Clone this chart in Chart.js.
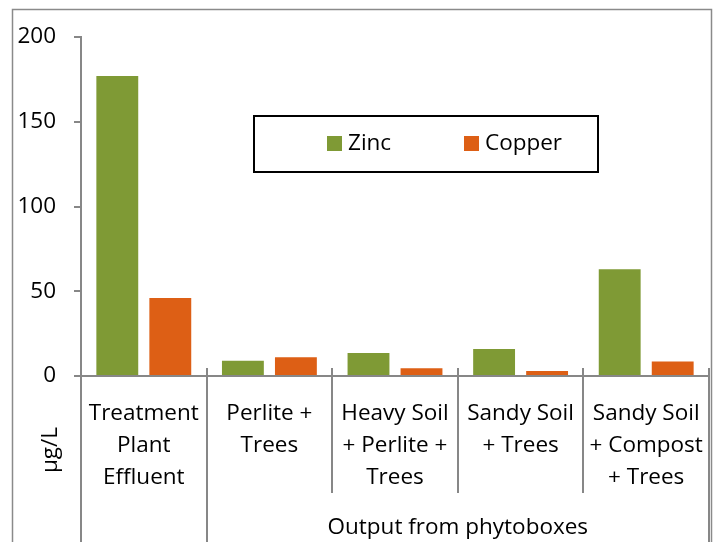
<!DOCTYPE html>
<html>
<head>
<meta charset="utf-8">
<script src="https://cdn.jsdelivr.net/npm/chart.js@4"></script>
<style>
  html, body { margin: 0; padding: 0; background: #fff; }
  #wrap { width: 717px; height: 542px; }
</style>
</head>
<body>
<div id="wrap"><canvas id="chart" width="717" height="542"></canvas></div>
<script>
const categories = [
  ["Treatment", "Plant", "Effluent"],
  ["Perlite +", "Trees"],
  ["Heavy Soil", "+ Perlite +", "Trees"],
  ["Sandy Soil", "+ Trees"],
  ["Sandy Soil", "+ Compost", "+ Trees"]
];
const zinc = [177, 9, 13.5, 16, 63];
const copper = [46, 11, 4.5, 3, 8.5];
const yMin = 0, yMax = 200, yStep = 50;
const groupLabel = "Output from phytoboxes";
const yTitle = "µg/L";

const FONT = "'Open Sans'";
const FSIZE = 22.5;
const zincColor = "#7f9a35";
const copperColor = "#dd5f15";
const axisColor = "#878787";

// extra drawing: frame, category dividers, group label, axis title, legend
const decor = {
  id: "decor",
  afterDraw(chart) {
    const ctx = chart.ctx;
    const x = chart.scales.x;
    const y = chart.scales.y;
    const base = y.getPixelForValue(0);
    const n = categories.length;
    ctx.save();

    // outer frame
    ctx.strokeStyle = "#8a8a8a";
    ctx.lineWidth = 1.5;
    ctx.strokeRect(12.5, 9.5, 699, 600);

    // category dividers
    ctx.strokeStyle = axisColor;
    ctx.lineWidth = 2;
    for (let i = 0; i <= n; i++) {
      const px = Math.round(x.getPixelForValue(i - 0.5));
      const full = (i === 0 || i === 1 || i === n);
      ctx.beginPath();
      ctx.moveTo(px, i === 0 ? base : base - 8);
      ctx.lineTo(px, full ? 560 : 493);
      ctx.stroke();
    }

    // group label
    ctx.fillStyle = "#000";
    ctx.font = FSIZE + "px " + FONT;
    ctx.textAlign = "center";
    ctx.textBaseline = "middle";
    const gx = (x.getPixelForValue(0.5) + x.getPixelForValue(n - 0.5)) / 2;
    ctx.fillText(groupLabel, gx, 528);

    // rotated y title
    ctx.save();
    ctx.translate(51, 450);
    ctx.rotate(-Math.PI / 2);
    ctx.fillText(yTitle, 0, 0);
    ctx.restore();

    // legend box
    ctx.strokeStyle = "#000";
    ctx.lineWidth = 2;
    ctx.strokeRect(254, 116, 344, 56);
    const items = chart.data.datasets;
    const lx = [327, 464];
    ctx.textAlign = "left";
    items.forEach((ds, i) => {
      ctx.fillStyle = ds.backgroundColor;
      ctx.fillRect(lx[i], 136, 15, 15);
      ctx.fillStyle = "#000";
      ctx.fillText(ds.label, lx[i] + 21, 144);
    });

    ctx.restore();
  }
};

new Chart(document.getElementById("chart"), {
  type: "bar",
  data: {
    labels: categories,
    datasets: [
      { label: "Zinc", data: zinc, backgroundColor: zincColor,
        categoryPercentage: 0.844, barPercentage: 0.79 },
      { label: "Copper", data: copper, backgroundColor: copperColor,
        categoryPercentage: 0.844, barPercentage: 0.79 }
    ]
  },
  options: {
    responsive: false,
    animation: false,
    layout: { padding: { top: 37, right: 8, left: 0, bottom: 0 } },
    plugins: {
      legend: { display: false },
      tooltip: { enabled: false }
    },
    scales: {
      x: {
        grid: { display: false },
        border: { display: true, color: axisColor, width: 2 },
        ticks: {
          color: "#000",
          font: { family: FONT, size: FSIZE, lineHeight: 1.44 },
          padding: 13,
          maxRotation: 0,
          autoSkip: false
        },
        afterFit(scale) { scale.height = 166; }
      },
      y: {
        min: yMin,
        max: yMax,
        grid: { drawOnChartArea: false, drawTicks: true, tickLength: 7, color: axisColor, lineWidth: 2 },
        border: { display: true, color: axisColor, width: 2 },
        ticks: {
          stepSize: yStep,
          color: "#000",
          font: { family: FONT, size: FSIZE },
          padding: 18
        },
        afterFit(scale) { scale.width = 81; }
      }
    }
  },
  plugins: [decor]
});
</script>
</body>
</html>
